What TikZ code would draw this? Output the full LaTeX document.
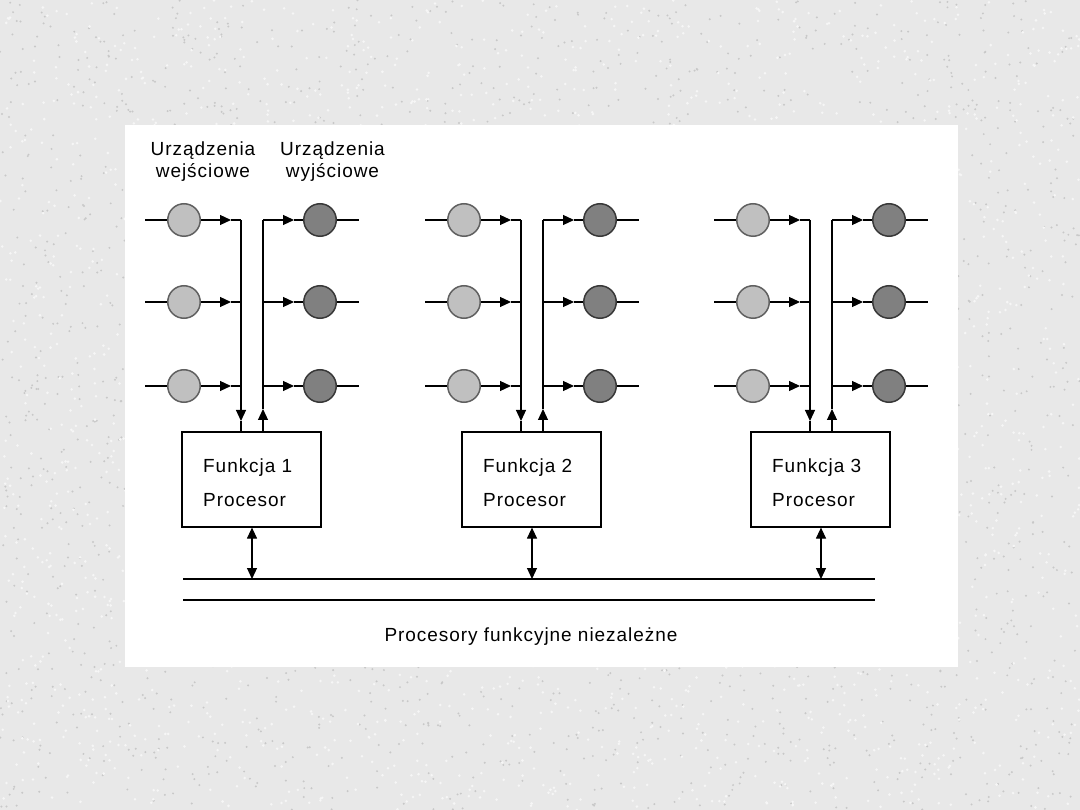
\documentclass[tikz,border=0pt]{standalone}
\usepackage{fontspec}
\setmainfont{Liberation Sans}[LetterSpace=5]
\usetikzlibrary{arrows.meta}
\definecolor{bgcol}{RGB}{232,232,232}
\definecolor{speckdark}{RGB}{200,200,200}
\definecolor{specklight}{RGB}{246,246,246}
\definecolor{infill}{RGB}{192,192,192}
\definecolor{indraw}{RGB}{96,96,96}
\definecolor{outfill}{RGB}{128,128,128}
\definecolor{outdraw}{RGB}{56,56,56}
\tikzset{
  >={Triangle[length=11pt,width=10pt]},
  wire/.style={line width=1.2pt, black},
  indev/.style={circle, minimum size=32.5pt, inner sep=0pt, fill=infill, draw=indraw, line width=1.5pt},
  outdev/.style={circle, minimum size=32.5pt, inner sep=0pt, fill=outfill, draw=outdraw, line width=1.5pt},
  procbox/.style={rectangle, minimum width=139pt, minimum height=95pt, inner sep=0pt, draw=black, line width=1.2pt, fill=white},
  lbl/.style={font=\fontsize{19}{21}\selectfont, inner sep=0pt},
}
\begin{document}
\begin{tikzpicture}[x=1pt,y=-1pt]
\fill[bgcol] (0,0) rectangle (1080,810);
\useasboundingbox (0,0) rectangle (1080,810);
% granite-like speckles of the background
\pgfmathsetseed{11}
\foreach \i in {1,...,2500} {
  \pgfmathsetmacro{\sx}{rnd*1080}
  \pgfmathsetmacro{\sy}{rnd*810}
  \fill[speckdark] (\sx,\sy) circle[radius=1.1pt];
}
\foreach \i in {1,...,2500} {
  \pgfmathsetmacro{\sx}{rnd*1080}
  \pgfmathsetmacro{\sy}{rnd*810}
  \fill[specklight] (\sx,\sy) circle[radius=1.4pt];
}
\fill[white] (125,125) rectangle (958,667);

% headers
\node[lbl, anchor=base] (h1a) at (203,156) {Urządzenia};
\node[lbl, anchor=base] (h1b) at (203,178) {wejściowe};
\node[lbl, anchor=base] (h2a) at (332.5,156) {Urządzenia};
\node[lbl, anchor=base] (h2b) at (332.5,178) {wyjściowe};

% bus
\coordinate (busAL) at (183,579);
\coordinate (busAR) at (875,579);
\coordinate (busBL) at (183,600);
\coordinate (busBR) at (875,600);
\draw[wire] (busAL) -- (busAR);
\draw[wire] (busBL) -- (busBR);
\node[lbl, anchor=base] (title) at (531,641) {Procesory funkcyjne niezależne};

\foreach \p/\b in {1/184, 2/464, 3/753} {
  % processor box
  \node[procbox] (box\p) at (\b+67.5,479.5) {};
  \node[lbl, anchor=base west] (fn\p) at (\b+19,472) {Funkcja \p};
  \node[lbl, anchor=base west] (pr\p) at (\b+19,507) {Procesor};
  % bus connection
  \coordinate (bc\p) at (\b+68,579);
  \draw[wire, <->] (box\p.south -| bc\p) -- (bc\p);
  % vertical lines
  \coordinate (dtop\p) at (\b+57,220);
  \coordinate (dmid\p) at (\b+57,421);
  \coordinate (utop\p) at (\b+79,220);
  \coordinate (umid\p) at (\b+79,409);
  \draw[wire, ->] (dtop\p) -- (dmid\p);
  \draw[wire] (dmid\p) -- (box\p.north -| dmid\p);
  \draw[wire, ->] (box\p.north -| umid\p) -- (umid\p);
  \draw[wire] (umid\p) -- (utop\p);
  \foreach \r/\y in {1/220, 2/302, 3/386} {
    \node[indev] (in\p\r) at (\b,\y) {};
    \node[outdev] (out\p\r) at (\b+136,\y) {};
    \coordinate (il\p\r) at (\b-39,\y);
    \coordinate (ia\p\r) at (\b+47,\y);
    \coordinate (ij\p\r) at (\b+57,\y);
    \coordinate (oj\p\r) at (\b+79,\y);
    \coordinate (oa\p\r) at (\b+110,\y);
    \coordinate (or\p\r) at (\b+175,\y);
    \draw[wire] (il\p\r) -- (in\p\r.west);
    \draw[wire, ->] (in\p\r.east) -- (ia\p\r);
    \draw[wire] (ia\p\r) -- (ij\p\r);
    \draw[wire, ->] (oj\p\r) -- (oa\p\r);
    \draw[wire] (oa\p\r) -- (out\p\r.west);
    \draw[wire] (out\p\r.east) -- (or\p\r);
  }
}
\end{tikzpicture}
\end{document}
